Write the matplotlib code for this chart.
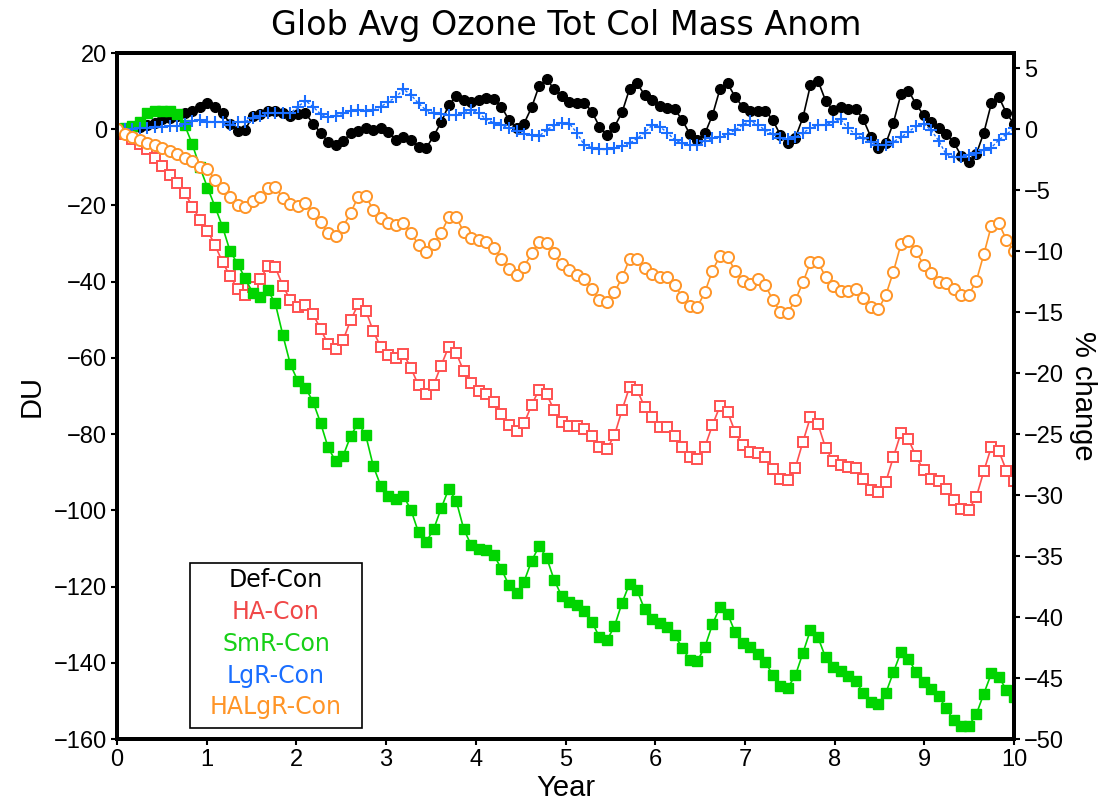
import numpy as np
import matplotlib
matplotlib.use("Agg")
import matplotlib.pyplot as plt
from matplotlib import font_manager
from matplotlib.patches import Rectangle

# ---------------- data ----------------
n_points = 120
x_start, x_end = 0, 10

def_con = [0.0, 0.1, 0.3, 0.7, 1.1, 1.6, 2.6, 3.0, 3.6, 4.3,
           4.9, 5.7, 6.8, 5.9, 4.2, 1.5, -0.5, -0.2, 3.5, 4.0,
           4.9, 4.9, 4.2, 3.5, 3.9, 4.2, 1.5, -0.9, -3.3, -4.2,
           -3.1, -1.1, -0.5, 0.2, -0.2, 0.2, -0.7, -2.7, -2.1, -2.7,
           -4.6, -5.0, -1.8, 1.8, 6.3, 8.7, 7.7, 7.2, 7.7, 8.1,
           7.9, 5.9, 2.4, 0.2, 1.5, 5.7, 11.4, 13.1, 10.5, 8.7,
           7.2, 7.0, 7.0, 4.6, 0.7, -1.5, 0.7, 4.4, 10.6, 12.0,
           9.0, 7.7, 6.2, 5.5, 5.2, 2.4, -1.3, -2.8, -1.1, 3.7,
           10.6, 12.0, 8.5, 5.9, 4.9, 4.9, 4.9, 2.4, -1.5, -3.7,
           -2.2, 3.1, 11.6, 12.7, 7.5, 5.0, 5.7, 5.3, 5.3, 2.6,
           -2.0, -4.8, -3.7, 1.7, 9.2, 10.1, 6.6, 3.7, 2.0, 0.2,
           -1.3, -3.4, -7.0, -8.5, -6.5, -0.9, 6.8, 8.4, 4.2, 1.4]

ha_con = [0.0, -1.2, -2.5, -3.9, -5.3, -7.6, -9.7, -12.0, -14.0, -16.7,
          -20.3, -23.7, -26.6, -30.4, -34.9, -38.5, -42.0, -43.4, -41.4, -39.4,
          -35.9, -36.2, -41.1, -44.8, -46.7, -46.1, -48.5, -52.4, -56.4, -57.7,
          -55.3, -50.1, -45.9, -47.6, -53.0, -57.2, -59.3, -60.1, -58.9, -62.7,
          -67.2, -69.4, -67.1, -62.0, -57.1, -58.7, -63.5, -66.7, -68.6, -69.5,
          -71.5, -74.8, -77.7, -79.3, -77.2, -72.4, -68.3, -69.6, -73.7, -76.8,
          -77.8, -77.8, -78.6, -80.5, -83.3, -83.9, -80.3, -73.7, -67.6, -68.5,
          -72.8, -75.5, -78.1, -78.2, -80.5, -83.3, -86.0, -86.6, -83.3, -77.6,
          -72.6, -74.2, -79.4, -82.9, -84.6, -84.9, -86.1, -89.2, -91.7, -92.1,
          -88.8, -82.0, -75.5, -77.4, -83.6, -87.1, -88.2, -88.7, -89.0, -91.7,
          -94.7, -95.3, -92.5, -86.0, -79.7, -81.4, -85.8, -89.4, -91.8, -92.3,
          -94.4, -97.3, -99.7, -99.8, -96.5, -89.7, -83.3, -84.5, -89.6, -92.3]

smr_con = [0.0, 0.3, 0.8, 2.0, 4.3, 4.8, 4.9, 4.8, 4.0, 1.0,
           -4.0, -10.0, -15.3, -20.3, -25.6, -32.0, -35.3, -39.1, -42.9, -44.1,
           -42.2, -45.7, -54.0, -61.7, -66.1, -67.8, -71.5, -77.0, -83.5, -87.1,
           -85.7, -80.5, -77.0, -80.3, -88.4, -93.6, -96.2, -96.9, -96.2, -99.9,
           -105.8, -108.3, -105.0, -99.5, -94.4, -97.5, -104.9, -109.2, -110.2, -110.4,
           -111.7, -115.4, -119.7, -121.8, -118.7, -113.3, -109.4, -112.4, -118.3, -122.5,
           -124.0, -124.9, -126.4, -129.3, -133.2, -134.1, -130.4, -124.3, -119.2, -121.0,
           -126.0, -128.4, -129.5, -130.7, -132.8, -136.1, -139.3, -139.5, -135.8, -129.9,
           -125.3, -127.1, -132.0, -134.9, -135.8, -137.6, -139.7, -143.3, -146.1, -146.5,
           -143.3, -137.4, -131.4, -133.3, -138.6, -141.2, -142.1, -143.5, -144.8, -147.9,
           -150.3, -150.7, -147.9, -142.5, -137.2, -138.9, -142.5, -145.1, -146.9, -148.8,
           -151.9, -155.1, -156.5, -156.5, -153.5, -148.1, -142.8, -143.7, -147.2, -149.1]

lgr_con = [0.0, 0.1, 0.1, 0.2, 0.4, 0.7, 0.7, 0.8, 0.9, 1.3,
           2.2, 2.4, 2.0, 2.0, 1.8, 1.1, 2.0, 2.0, 2.9, 3.5,
           4.2, 4.3, 4.2, 4.2, 5.9, 7.5, 5.9, 4.0, 3.1, 3.5,
           4.2, 4.9, 5.0, 4.9, 5.0, 5.9, 7.2, 8.4, 10.5, 9.0,
           6.8, 5.0, 4.3, 4.0, 3.7, 3.7, 4.3, 5.0, 4.2, 2.6,
           1.7, 1.1, 0.2, -0.4, -1.3, -1.5, -1.8, -0.2, 1.1, 1.7,
           1.5, -0.9, -4.2, -4.8, -5.3, -5.3, -5.0, -4.4, -3.7, -2.4,
           -0.9, 1.1, 0.7, -0.9, -2.8, -3.7, -4.2, -4.2, -3.1, -2.4,
           -2.1, -1.3, -0.2, 1.1, 2.2, 1.1, -0.2, -1.3, -2.4, -2.6,
           -2.1, -0.9, 0.2, 1.1, 1.1, 2.0, 2.6, 0.2, -1.3, -2.4,
           -3.3, -4.2, -4.2, -3.3, -2.1, -0.7, 0.8, 1.4, -0.2, -3.0,
           -6.6, -7.2, -7.2, -6.8, -6.3, -5.5, -4.8, -2.8, -1.3, 0.2]

halgr_con = [0.0, -1.3, -2.1, -2.8, -3.7, -4.1, -4.8, -5.6, -6.6, -7.5,
             -8.3, -9.8, -10.5, -13.2, -15.4, -17.7, -19.9, -20.3, -18.8, -17.7,
             -15.5, -15.1, -18.0, -19.5, -20.2, -19.3, -21.9, -24.4, -27.1, -28.0,
             -25.6, -21.9, -17.7, -17.5, -21.2, -23.4, -24.5, -25.1, -24.7, -27.1,
             -30.4, -32.2, -30.1, -27.2, -23.1, -23.1, -26.9, -28.6, -29.1, -29.5,
             -31.1, -34.1, -36.8, -38.3, -36.1, -32.6, -29.5, -29.8, -32.6, -35.4,
             -37.0, -38.3, -39.4, -42.0, -44.8, -45.4, -42.8, -38.9, -34.1, -34.1,
             -36.5, -38.1, -38.7, -38.7, -41.0, -44.0, -46.4, -46.6, -42.7, -37.1,
             -33.2, -33.5, -37.1, -39.8, -40.7, -39.4, -40.9, -44.8, -47.9, -48.1,
             -44.8, -40.2, -34.9, -34.9, -38.7, -41.2, -42.4, -42.4, -41.9, -44.4,
             -46.7, -47.3, -43.5, -37.4, -30.2, -29.3, -32.0, -35.6, -37.8, -40.0,
             -40.3, -42.0, -43.5, -43.5, -39.8, -32.8, -25.3, -24.7, -29.1, -31.9]

labels = ["Def-Con", "HA-Con", "SmR-Con", "LgR-Con", "HALgR-Con"]
du_ticks = [20, 0, -20, -40, -60, -80, -100, -120, -140, -160]
pct_ticks = [5, 0, -5, -10, -15, -20, -25, -30, -35, -40, -45, -50]
year_ticks = list(range(0, 11))
du_per_percent = 3.2
title = "Glob Avg Ozone Tot Col Mass Anom"

# ---------------- style ----------------
available = {f.name for f in font_manager.fontManager.ttflist}
fam = "DejaVu Sans"
for cand in ["Liberation Sans Narrow", "Liberation Sans", "DejaVu Sans"]:
    if cand in available:
        fam = cand
        break
plt.rcParams["font.family"] = [fam, "DejaVu Sans"]
wide = ["DejaVu Sans"]

colors = ["#000000", "#ff5050", "#00d400", "#1a6eff", "#ff9528"]
legend_colors = ["#000000", "#f04848", "#18d018", "#1a6eff", "#ff9528"]

W, H = 1107, 806
fig = plt.figure(figsize=(W / 100, H / 100), dpi=100)
ax = fig.add_axes([117 / W, 1 - 739 / H, 897 / W, 686 / H])

x = np.linspace(x_start, x_end, n_points)

ax.plot(x, def_con, color=colors[0], lw=1.2, marker="o", ms=7, mfc=colors[0], mec=colors[0], zorder=3)
ax.plot(x, ha_con, color=colors[1], lw=1.2, marker="s", ms=7.5, mfc="white", mec=colors[1], mew=1.4, zorder=4)
ax.plot(x, smr_con, color=colors[2], lw=1.2, marker="s", ms=6.5, mfc=colors[2], mec=colors[2], zorder=5)
ax.plot(x, lgr_con, color=colors[3], lw=1.0, ls=(0, (2, 1.5)), marker="+", ms=8, mew=1.5, zorder=6)
ax.plot(x, halgr_con, color=colors[4], lw=1.2, marker="o", ms=8, mfc="white", mec=colors[4], mew=1.4, zorder=7)

ax.set_xlim(x_start, x_end)
ax.set_ylim(-160, 20)
ax.set_xticks(year_ticks)
ax.set_yticks(du_ticks)
ax.tick_params(axis="both", direction="out", length=4, width=1.5, labelsize=17, pad=3)
for s in ax.spines.values():
    s.set_linewidth(2.8)

ax2 = ax.twinx()
ax2.set_ylim(-160 / du_per_percent, 20 / du_per_percent)
ax2.set_yticks(pct_ticks)
ax2.tick_params(axis="y", direction="out", length=4, width=1.5, labelsize=17, pad=3)
for s in ax2.spines.values():
    s.set_linewidth(2.8)

ax.set_xlabel("Year", fontsize=21, labelpad=2)
ax.set_ylabel("DU", fontsize=21, labelpad=6)
ax2.set_ylabel("% change", fontsize=21, rotation=270, labelpad=24)
fig.text(566 / W, 1 - 25 / H, title, fontsize=24, ha="center", va="center", family=wide)

# legend box (text only, as in the reference)
box = Rectangle((190 / W, 1 - 728 / H), 172 / W, 165 / H, transform=fig.transFigure,
                facecolor="white", edgecolor="black", lw=1.2, zorder=10)
fig.patches.append(box)
ys = [580, 612, 644, 676, 707]
for lab, c, yy in zip(labels, legend_colors, ys):
    fig.text(276 / W, 1 - yy / H, lab, color=c, fontsize=17, ha="center", va="center",
             zorder=11, family=wide)

fig.savefig("out.png", dpi=100)
